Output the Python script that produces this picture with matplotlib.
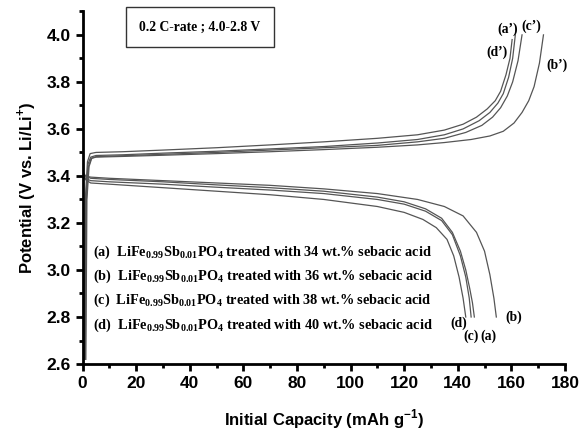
import matplotlib.pyplot as plt
from matplotlib.ticker import MultipleLocator

plt.rcParams['mathtext.fontset'] = 'custom'
plt.rcParams['mathtext.rm'] = 'Liberation Serif'
plt.rcParams['mathtext.bf'] = 'Liberation Serif:bold'
plt.rcParams['mathtext.sf'] = 'Liberation Sans:bold'

# ── charge curves (a')-(d') ─────────────────────────────
chg_a_x = [0.8, 1.2, 2.0, 3.0, 5, 15, 30, 50, 70, 90, 110, 125, 135, 142, 148, 152, 155, 157, 159, 160.5, 161.5]
chg_a_y = [2.62, 3.30, 3.45, 3.48, 3.487, 3.49, 3.497, 3.505, 3.515, 3.525, 3.54, 3.555, 3.575, 3.60, 3.635, 3.67, 3.71, 3.75, 3.82, 3.90, 4.00]

chg_b_x = [1.2, 1.6, 2.4, 3.4, 5, 15, 30, 50, 70, 90, 110, 125, 135, 145, 152, 157, 161, 164, 166.5, 168.5, 170.5, 172]
chg_b_y = [2.62, 3.30, 3.44, 3.475, 3.48, 3.483, 3.488, 3.495, 3.503, 3.512, 3.522, 3.532, 3.542, 3.555, 3.57, 3.59, 3.625, 3.67, 3.72, 3.78, 3.88, 4.00]

chg_c_x = [1.0, 1.4, 2.2, 3.2, 5, 15, 30, 50, 70, 90, 110, 125, 135, 143, 149, 153, 156, 158.5, 160.5, 162.5, 164]
chg_c_y = [2.62, 3.30, 3.44, 3.475, 3.482, 3.486, 3.492, 3.50, 3.51, 3.52, 3.53, 3.545, 3.56, 3.585, 3.615, 3.65, 3.69, 3.74, 3.80, 3.89, 4.00]

chg_d_x = [0.6, 1.0, 1.8, 2.8, 5, 15, 30, 50, 70, 90, 110, 125, 135, 142, 147, 151, 154, 156, 158, 159.5, 160.3]
chg_d_y = [2.62, 3.30, 3.46, 3.495, 3.50, 3.503, 3.51, 3.52, 3.532, 3.545, 3.56, 3.575, 3.595, 3.62, 3.65, 3.685, 3.72, 3.76, 3.83, 3.90, 3.98]

# ── discharge curves (a)-(d) ────────────────────────────
dis_a_x = [0, 1, 3, 10, 30, 50, 70, 90, 110, 120, 128, 134, 138, 141, 143, 144.5, 145.5, 146.2]
dis_a_y = [3.42, 3.40, 3.39, 3.385, 3.375, 3.362, 3.35, 3.335, 3.31, 3.29, 3.26, 3.22, 3.16, 3.08, 3.00, 2.92, 2.86, 2.80]

dis_b_x = [0, 1, 3, 10, 30, 50, 70, 90, 110, 125, 135, 142, 147, 150, 152, 153.5, 154.4]
dis_b_y = [3.42, 3.40, 3.395, 3.39, 3.38, 3.37, 3.36, 3.345, 3.325, 3.30, 3.27, 3.23, 3.16, 3.08, 2.98, 2.88, 2.80]

dis_c_x = [0, 1, 3, 10, 30, 50, 70, 90, 110, 120, 128, 134, 138, 141, 143, 144.3, 145]
dis_c_y = [3.42, 3.39, 3.38, 3.375, 3.365, 3.352, 3.34, 3.325, 3.30, 3.28, 3.25, 3.21, 3.15, 3.06, 2.97, 2.88, 2.80]

dis_d_x = [0, 1, 3, 10, 30, 50, 70, 90, 110, 120, 127, 132, 136, 138.5, 140.5, 142, 143]
dis_d_y = [3.42, 3.385, 3.37, 3.365, 3.35, 3.335, 3.32, 3.30, 3.27, 3.245, 3.215, 3.18, 3.13, 3.06, 2.97, 2.88, 2.80]

legend_rows = [
    ("(a)", "34"),
    ("(b)", "36"),
    ("(c)", "38"),
    ("(d)", "40"),
]

# ── plot ────────────────────────────────────────────────
fig = plt.figure(figsize=(5.86, 4.37), dpi=100)
ax = fig.add_axes([0.141, 0.167, 0.823, 0.807])

lc = '#555555'
for xs, ys in [(chg_a_x, chg_a_y), (chg_b_x, chg_b_y), (chg_c_x, chg_c_y), (chg_d_x, chg_d_y),
               (dis_a_x, dis_a_y), (dis_b_x, dis_b_y), (dis_c_x, dis_c_y), (dis_d_x, dis_d_y)]:
    ax.plot(xs, ys, color=lc, lw=0.9)

ax.set_xlim(0, 180)
ax.set_ylim(2.6, 4.1)
ax.xaxis.set_major_locator(MultipleLocator(20))
ax.xaxis.set_minor_locator(MultipleLocator(10))
ax.yaxis.set_major_locator(MultipleLocator(0.2))
ax.yaxis.set_minor_locator(MultipleLocator(0.1))
ax.yaxis.set_major_formatter(plt.FuncFormatter(lambda v, p: f"{v:.1f}"))

for s in ['top', 'right']:
    ax.spines[s].set_visible(False)
for s in ['left', 'bottom']:
    ax.spines[s].set_linewidth(2)

ax.tick_params(which='major', direction='out', length=5, width=2)
ax.tick_params(which='minor', direction='out', length=3, width=2)
for lab in ax.get_xticklabels() + ax.get_yticklabels():
    lab.set_fontfamily('Liberation Sans')
    lab.set_fontweight('bold')
    lab.set_fontsize(12.5)

ax.set_xlabel('Initial Capacity (mAh g$^{\\mathsf{-1}}$)', fontfamily='Liberation Sans',
              fontweight='bold', fontsize=12, labelpad=12)
ax.set_ylabel('Potential (V vs. Li/Li$^{\\mathsf{+}}$)', fontfamily='Liberation Sans',
              fontweight='bold', fontsize=12, labelpad=6)

serif = dict(fontfamily='Liberation Serif', fontweight='bold', fontsize=9.8)

# rate box
ax.text(0.243, 0.956, '0.2 C-rate ; 4.0-2.8 V', transform=ax.transAxes, ha='center', va='center',
        bbox=dict(boxstyle='square,pad=1.0', fc='white', ec='#333333', lw=1), **serif)

# sample list
for i, (tag, pct) in enumerate(legend_rows):
    ax.text(0.022, 0.318 - i * 0.069,
            tag + '  LiFe$_{\\mathbf{0.99}}$Sb$_{\\mathbf{0.01}}$PO$_{\\mathbf{4}}$ treated with '
            + pct + ' wt.% sebacic acid',
            transform=ax.transAxes, ha='left', va='center',
            fontfamily='Liberation Serif', fontweight='bold', fontsize=10.3)

# curve tags
ax.text(158.5, 4.024, "(a\u2019)", ha='center', va='center', **serif)
ax.text(167.5, 4.036, "(c\u2019)", ha='center', va='center', **serif)
ax.text(154.5, 3.928, "(d\u2019)", ha='center', va='center', **serif)
ax.text(177, 3.870, "(b\u2019)", ha='center', va='center', **serif)
ax.text(140.5, 2.775, "(d)", ha='center', va='center', **serif)
ax.text(145, 2.72, "(c)", ha='center', va='center', **serif)
ax.text(151.5, 2.72, "(a)", ha='center', va='center', **serif)
ax.text(161, 2.80, "(b)", ha='center', va='center', **serif)

fig.savefig('out.png', dpi=100)
